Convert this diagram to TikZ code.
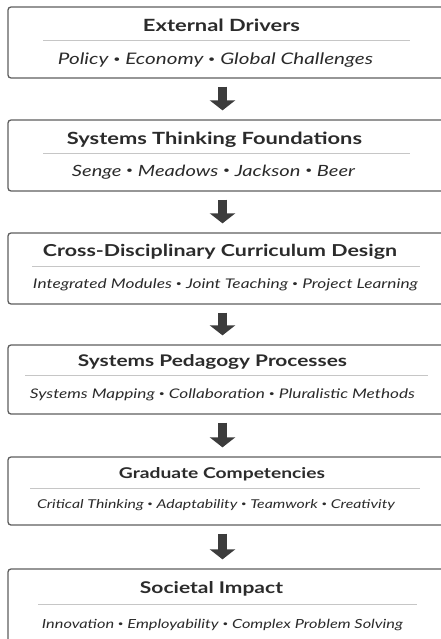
\documentclass[tikz,border=0pt]{standalone}
\usepackage{fontspec}
\setmainfont[FakeStretch=1.3]{Lato}
\usetikzlibrary{arrows.meta}

\definecolor{framegray}{HTML}{5E5E5E}
\definecolor{rulegray}{HTML}{C6C6C6}
\definecolor{arrowgray}{HTML}{3C3C3C}
\definecolor{inkgray}{HTML}{2B2B2B}

% stage heading and item line, each set to a given width
\newcommand\stagehead[2]{\resizebox{#1pt}{!}{\bfseries #2}}
\newcommand\stageitems[2]{\resizebox{#1pt}{!}{\itshape #2}}
% small round separator between items
\newcommand\itemdot{\raisebox{0.14em}{\scalebox{0.6}{•}}}

\tikzset{
  stage/.style={draw=framegray, line width=1.3pt, rounded corners=3pt,
    inner sep=0pt, fill=white, minimum width=440pt},
  headtext/.style={anchor=base, inner sep=0pt, text=inkgray},
  itemtext/.style={anchor=base, inner sep=0pt, text=inkgray},
  rule/.style={draw=rulegray, line width=1pt},
  flow/.style={draw=arrowgray, line width=9pt,
    -{Triangle[width=25pt,length=10pt]}},
}

\begin{document}
\begin{tikzpicture}[x=1pt, y=-1pt]
  \useasboundingbox (0,0) rectangle (441,639);
  \clip (0,0) rectangle (441,639);
  \fill[white] (0,0) rectangle (441,639);

  \coordinate (axis) at (222.5,0);

  % stage frames
  \node[stage, minimum height=71pt] (s1) at (228,42.5) {};
  \node[stage, minimum height=71pt] (s2) at (228,155.5) {};
  \node[stage, minimum height=71pt] (s3) at (228,268.5) {};
  \node[stage, minimum height=69pt] (s4) at (228,379.5) {};
  \node[stage, minimum height=68pt] (s5) at (228,491) {};
  \node[stage, minimum height=73pt] (s6) at (228,605.5) {};

  % 1
  \node[headtext] (h1) at (221.5,31.7) {\stagehead{157}{External Drivers}};
  \draw[rule] (43,41) -- (410,41);
  \node[itemtext] (i1) at (215.5,65) {\stageitems{315}{Policy \itemdot{} Economy \itemdot{} Global Challenges}};

  % 2
  \node[headtext] (h2) at (214.5,145) {\stagehead{295}{Systems Thinking Foundations}};
  \draw[rule] (43,154) -- (410,154);
  \node[itemtext] (i2) at (213.5,176) {\stageitems{283}{Senge \itemdot{} Meadows \itemdot{} Jackson \itemdot{} Beer}};

  % 3
  \node[headtext] (h3) at (220,256) {\stagehead{354}{Cross-Disciplinary Curriculum Design}};
  \draw[rule] (32,266) -- (420,266);
  \node[itemtext] (i3) at (225.5,288) {\stageitems{385}{Integrated Modules \itemdot{} Joint Teaching \itemdot{} Project Learning}};

  % 4
  \node[headtext] (h4) at (212.5,366) {\stagehead{269}{Systems Pedagogy Processes}};
  \draw[rule] (25,375) -- (428,375);
  \node[itemtext] (i4) at (222.5,398) {\stageitems{385}{Systems Mapping \itemdot{} Collaboration \itemdot{} Pluralistic Methods}};

  % 5
  \node[headtext] (h5) at (222,478) {\stagehead{206}{Graduate Competencies}};
  \draw[rule] (30,488) -- (420,488);
  \node[itemtext] (i5) at (216,508) {\stageitems{358}{Critical Thinking \itemdot{} Adaptability \itemdot{} Teamwork \itemdot{} Creativity}};

  % 6
  \node[headtext] (h6) at (211.5,593) {\stagehead{143}{Societal Impact}};
  \draw[rule] (38,604) -- (417,604);
  \node[itemtext] (i6) at (222.5,628) {\stageitems{361}{Innovation \itemdot{} Employability \itemdot{} Complex Problem Solving}};

  % flow between stages
  \foreach \a/\b in {s1/s2, s2/s3, s3/s4, s4/s5, s5/s6}
    \draw[flow] ([yshift=-8pt]\a.south -| axis) -- ([yshift=9pt]\b.north -| axis);
\end{tikzpicture}
\end{document}
